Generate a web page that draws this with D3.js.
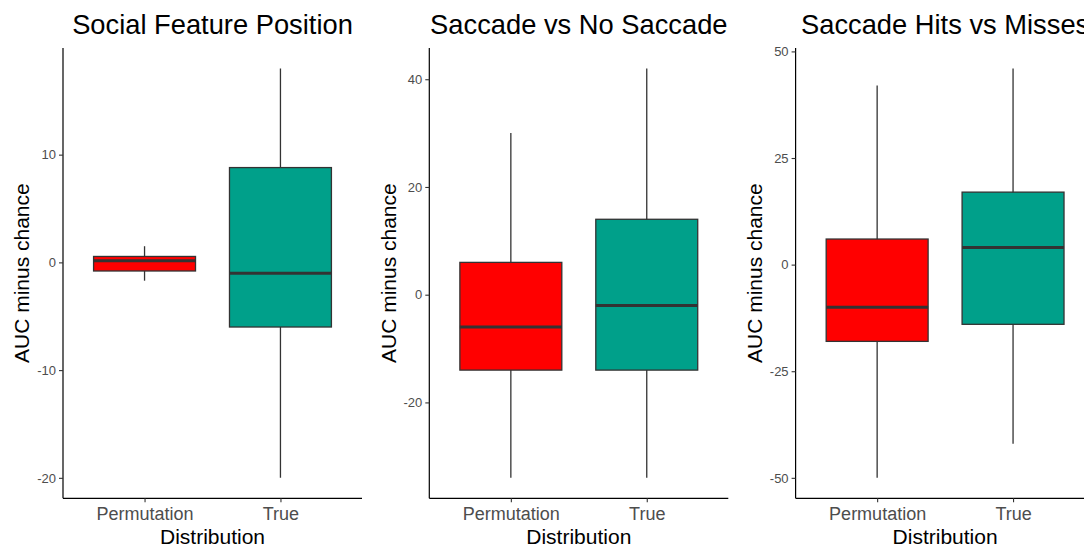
<!DOCTYPE html>
<html>
<head>
<meta charset="utf-8">
<script src="https://cdn.jsdelivr.net/npm/d3@7"></script>
<style>
  body { margin: 0; background: #fff; }
  svg { display: block; font-family: "Liberation Sans", Arial, sans-serif; }
</style>
</head>
<body>
<svg width="1084" height="547"></svg>
<script>
// Data: [lower whisker, Q1, median, Q3, upper whisker]
var categories = ['Permutation', 'True'];
var panelTitles = ['Social Feature Position', 'Saccade vs No Saccade', 'Saccade Hits vs Misses'];
var socialFeature = [[-1.7, -0.8, 0.15, 0.55, 1.5], [-20, -6, -1, 8.8, 18]];
var saccadeVsNo = [[-34, -14, -6, 6, 30], [-34, -14, -2, 14, 42]];
var hitsVsMisses = [[-50, -18, -10, 6, 42], [-42, -14, 4, 17, 46]];
var yTicks = [[-20, -10, 0, 10], [-20, 0, 20, 40], [-50, -25, 0, 25, 50]];
var fills = ['#FF0000', '#00A08A'];

var panels = [socialFeature, saccadeVsNo, hitsVsMisses];

var svg = d3.select('svg');

// layout
var panelStep = 366.3;
var firstLeft = 63;
var plotW = 299;
var plotTop = 48, plotBottom = 498.3;

panels.forEach(function(stats, p) {
    var g = svg.append('g')
        .attr('transform', 'translate(' + (firstLeft + p * panelStep) + ',0)');

    // ggplot style 5% expansion on the continuous axis
    var lo = d3.min(stats, function(d) { return d[0]; });
    var hi = d3.max(stats, function(d) { return d[4]; });
    var pad = (hi - lo) * 0.05;
    var y = d3.scaleLinear().domain([lo - pad, hi + pad]).range([plotBottom, plotTop]);

    // discrete x: positions 1..n with 0.6 expansion
    var x = d3.scaleLinear().domain([0.4, categories.length + 0.6]).range([0, plotW]);
    var boxW = x(1.75) - x(1);

    var boxes = g.selectAll('.box')
        .data(stats)
        .enter().append('g')
        .attr('class', 'box');

    boxes.append('line')
        .attr('x1', function(d, i) { return x(i + 1); })
        .attr('x2', function(d, i) { return x(i + 1); })
        .attr('y1', function(d) { return y(d[0]); })
        .attr('y2', function(d) { return y(d[4]); })
        .attr('stroke', '#333333')
        .attr('stroke-width', 1.3);

    boxes.append('rect')
        .attr('x', function(d, i) { return x(i + 1) - boxW / 2; })
        .attr('width', boxW)
        .attr('y', function(d) { return y(d[3]); })
        .attr('height', function(d) { return y(d[1]) - y(d[3]); })
        .attr('fill', function(d, i) { return fills[i]; })
        .attr('stroke', '#333333')
        .attr('stroke-width', 1.3);

    boxes.append('line')
        .attr('x1', function(d, i) { return x(i + 1) - boxW / 2; })
        .attr('x2', function(d, i) { return x(i + 1) + boxW / 2; })
        .attr('y1', function(d) { return y(d[2]); })
        .attr('y2', function(d) { return y(d[2]); })
        .attr('stroke', '#333333')
        .attr('stroke-width', 3);

    // y axis (plain hyphen minus like the reference)
    var yAxis = g.append('g')
        .call(d3.axisLeft(y).tickValues(yTicks[p]).tickFormat(function(d) { return String(d); })
            .tickSize(4).tickPadding(3).tickSizeOuter(0));
    yAxis.select('.domain').attr('stroke', '#000').attr('stroke-width', 1.2)
        .attr('d', 'M0,' + plotTop + 'V' + plotBottom);
    yAxis.selectAll('.tick line').attr('stroke', '#333333').attr('stroke-width', 1.1);
    yAxis.selectAll('.tick text').attr('fill', '#4d4d4d').style('font-size', '13px')
        .style('font-family', '"Liberation Sans", Arial, sans-serif');

    // x axis
    var xBand = d3.scalePoint().domain(categories).range([x(1), x(categories.length)]);
    var xAxis = g.append('g')
        .attr('transform', 'translate(0,' + plotBottom + ')')
        .call(d3.axisBottom(xBand).tickSize(4).tickPadding(5).tickSizeOuter(0));
    xAxis.select('.domain').attr('stroke', '#000').attr('stroke-width', 1.2)
        .attr('d', 'M0,0H' + plotW);
    xAxis.selectAll('.tick line').attr('stroke', '#333333').attr('stroke-width', 1.1);
    xAxis.selectAll('.tick text').attr('fill', '#4d4d4d').style('font-size', '18px')
        .style('font-family', '"Liberation Sans", Arial, sans-serif');

    // labels
    g.append('text')
        .attr('x', plotW / 2)
        .attr('y', 544)
        .attr('text-anchor', 'middle')
        .style('font-size', '21px')
        .attr('fill', '#000')
        .text('Distribution');

    g.append('text')
        .attr('transform', 'translate(-41,' + ((plotTop + plotBottom) / 2) + ') rotate(-90)')
        .attr('text-anchor', 'middle')
        .attr('dy', '0.35em')
        .style('font-size', '21px')
        .attr('fill', '#000')
        .text('AUC minus chance');

    g.append('text')
        .attr('x', plotW / 2)
        .attr('y', 34)
        .attr('text-anchor', 'middle')
        .style('font-size', '27.3px')
        .attr('fill', '#000')
        .text(panelTitles[p]);
});
</script>
</body>
</html>
